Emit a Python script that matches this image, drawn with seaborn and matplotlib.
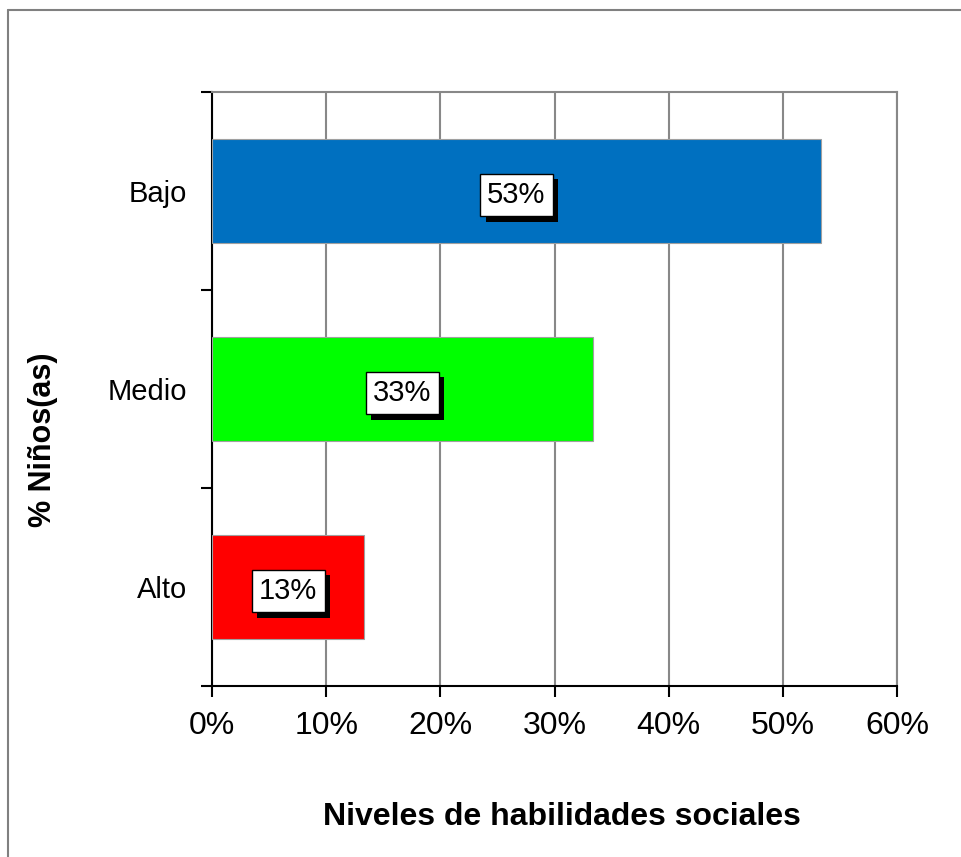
import pandas as pd
import matplotlib.pyplot as plt
import matplotlib.patheffects as pe
from matplotlib.lines import Line2D
from matplotlib.ticker import PercentFormatter
import seaborn as sns

# datos
niveles = ['Bajo', 'Medio', 'Alto']
porcentajes = [53.33, 33.33, 13.33]
etiquetas = ['53%', '33%', '13%']
colores = ['#0070C0', '#00FF00', '#FF0000']
ticks_x = [0, 10, 20, 30, 40, 50, 60]

df = pd.DataFrame({'nivel': niveles, 'pct': porcentajes})

sns.set_style('white')
plt.rcParams['font.family'] = ['Liberation Sans', 'DejaVu Sans']
plt.rcParams['text.color'] = 'black'
plt.rcParams['xtick.color'] = 'black'
plt.rcParams['ytick.color'] = 'black'

fig = plt.figure(figsize=(9.61, 8.57), dpi=100)
ax = fig.add_axes([212 / 961, 1 - 686 / 857, (897 - 212) / 961, (686 - 92) / 857])

sns.barplot(data=df, x='pct', y='nivel', hue='nivel', order=niveles,
            palette=dict(zip(niveles, colores)), legend=False, orient='h',
            width=0.525, saturation=1, edgecolor='#a0a0a0', linewidth=0.8,
            ax=ax, zorder=3)

ax.set_xlim(0, 60)
ax.set_ylim(2.5, -0.5)
ax.set_xticks(ticks_x)
ax.xaxis.set_major_formatter(PercentFormatter(decimals=0))
ax.grid(axis='x', color='#888888', linewidth=1.5, zorder=0)
ax.set_axisbelow(True)

for s in ['top', 'right']:
    ax.spines[s].set_color('#888888')
    ax.spines[s].set_linewidth(1.5)
for s in ['left', 'bottom']:
    ax.spines[s].set_color('black')
    ax.spines[s].set_linewidth(1.5)

ax.tick_params(axis='x', direction='out', length=8, width=1.5, color='black',
               labelsize=23, labelcolor='black', pad=10, bottom=True)
ax.tick_params(axis='y', which='major', length=0, labelsize=21, labelcolor='black', pad=18)
ax.set_yticks([-0.5, 0.5, 1.5, 2.5], minor=True)
ax.tick_params(axis='y', which='minor', direction='out', length=8, width=1.5,
               color='black', left=True)
ax.set_xlabel('')
ax.set_ylabel('')

for i, (v, t) in enumerate(zip(porcentajes, etiquetas)):
    txt = ax.text(v / 2, i + 0.02, t, ha='center', va='center', fontsize=21,
                  color='black', zorder=5,
                  bbox=dict(boxstyle='square,pad=0.25', facecolor='white',
                            edgecolor='black', linewidth=1))
    txt.get_bbox_patch().set_path_effects([
        pe.SimplePatchShadow(offset=(4, -4), shadow_rgbFace='black', alpha=1),
        pe.Normal()])

fig.text(43 / 961, 1 - 440 / 857, '% Niños(as)', rotation=90, ha='center',
         va='center', fontsize=22, fontweight='bold', color='black')
fig.text(562 / 961, 1 - 817 / 857, 'Niveles de habilidades sociales', ha='center',
         va='center', fontsize=23, fontweight='bold', color='black')

# marco del grafico
y_top = 1 - 9.5 / 857
x_left = 8 / 961
fig.add_artist(Line2D([x_left, x_left], [0, y_top], color='#808080', linewidth=1.5))
fig.add_artist(Line2D([x_left, 1], [y_top, y_top], color='#808080', linewidth=1.5))

fig.savefig('out.png', dpi=100)
